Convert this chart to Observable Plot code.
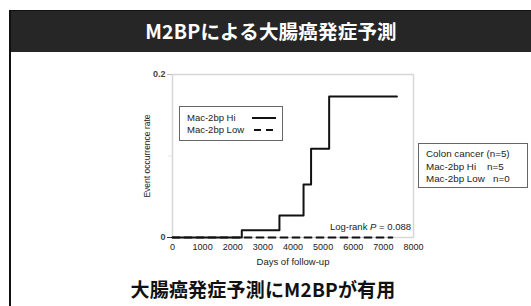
<!DOCTYPE html>
<html><head><meta charset="utf-8">
<script src="https://cdn.jsdelivr.net/npm/d3@7"></script>
<script src="https://cdn.jsdelivr.net/npm/@observablehq/plot@0.6"></script>
<style>
body{margin:0;background:#fff;}
#wrap{position:relative;width:531px;height:306px;overflow:hidden;background:#fff;font-family:"Liberation Sans",Arial,sans-serif;}
.abs{position:absolute;}
#hdr{left:11px;top:11px;width:520px;height:41px;background:#262626;color:#fff;font-family:"Noto Sans CJK JP",sans-serif;font-weight:bold;font-size:19.5px;line-height:40px;text-align:center;letter-spacing:0.2px;}
#foot{left:3px;width:520px;top:277px;text-align:center;font-family:"Noto Sans CJK JP",sans-serif;font-weight:bold;font-size:19px;line-height:24px;color:#111;letter-spacing:0.2px;}
.box{border:1px solid #666;background:#fff;color:#222;}
</style></head>
<body>
<div id="wrap">
  <div id="chart" class="abs" style="left:0;top:0"></div>
  <div class="abs" style="left:9px;top:10px;width:2px;height:296px;background:#111"></div>
  <div class="abs" style="left:9px;top:10px;width:522px;height:1.5px;background:#111"></div>
  <div id="hdr" class="abs"></div>
  <div id="legend" class="abs box" style="left:179px;top:106px;width:102px;height:33px;"></div>
  <div id="info" class="abs box" style="left:418px;top:143px;width:110px;height:45px;font-size:9.8px;line-height:12.5px;padding:0 0 0 7px;box-sizing:border-box;padding-top:4px;white-space:nowrap;"></div>
  <div id="foot" class="abs"></div>
</div>
<script>
const title = "M2BPによる大腸癌発症予測";
const footer = "大腸癌発症予測にM2BPが有用";
const xLabel = "Days of follow-up";
const yLabel = "Event occurrence rate";
const xTicks = [0, 1000, 2000, 3000, 4000, 5000, 6000, 7000, 8000];
const yTicks = [0, 0.2];
const seriesNames = ["Mac-2bp Hi", "Mac-2bp Low"];
const hiDays = [0, 2300, 3550, 4350, 4600, 5200, 7450];
const hiRate = [0, 0.009, 0.027, 0.065, 0.109, 0.173, 0.173];
const lowDays = [0, 7300];
const lowRate = [0, 0];
const infoLines = ["Colon cancer (n=5)", "Mac-2bp Hi\u00a0\u00a0\u00a0 n=5", "Mac-2bp Low\u00a0\u00a0 n=0"];
const pText = "0.088";

document.getElementById("hdr").textContent = title;
document.getElementById("foot").textContent = footer;
document.getElementById("info").innerHTML = infoLines.map(s => `<div>${s}</div>`).join("");

const hi = hiDays.map((d, i) => ({d, r: hiRate[i]}));
const low = lowDays.map((d, i) => ({d, r: lowRate[i]}));

const chart = Plot.plot({
  width: 531, height: 306,
  marginLeft: 172, marginRight: 118, marginTop: 74, marginBottom: 69,
  style: {fontFamily: "Liberation Sans, Arial, sans-serif", fontSize: "9px", color: "#222", background: "transparent"},
  x: {domain: [0, 8000]},
  y: {domain: [0, 0.2]},
  marks: [
    Plot.frame({stroke: "#d8d8d8", strokeWidth: 1.5}),
    Plot.axisX({ticks: xTicks, tickSize: 0, tickPadding: 6, tickFormat: d => String(d), label: null, fontSize: 9, fill: "#222"}),
    Plot.axisY({ticks: [0.1], tickSize: 4, stroke: "#e6e6e6", tickFormat: () => "", label: null}),
    Plot.axisY({ticks: [0.2], tickSize: 5, stroke: "#bbb", tickPadding: 2, fontWeight: "bold", fill: "#444", tickFormat: d => d.toFixed(1), label: null}),
    Plot.axisY({ticks: [0], tickSize: 5, stroke: "#333", tickPadding: 2, fontWeight: "bold", fill: "#444", tickFormat: d => String(d), label: null}),
    Plot.text([xLabel], {frameAnchor: "bottom", dy: 27, text: d => d, fontSize: 9.5, fill: "#222"}),
    Plot.text([yLabel], {frameAnchor: "left", textAnchor: "middle", dx: -25, rotate: -90, text: d => d, fontSize: 8.5, fill: "#222"}),
    Plot.line(low, {x: "d", y: "r", stroke: "#111", strokeWidth: 1.8, strokeDasharray: "7,5"}),
    Plot.line(hi, {x: "d", y: "r", curve: "step-after", stroke: "#111", strokeWidth: 2}),
  ]
});
const svg = d3.select(chart);
const t = svg.append("text")
  .attr("x", 411).attr("y", 230).attr("text-anchor", "end")
  .attr("font-size", 9.5).attr("fill", "#222").attr("font-family", "Liberation Sans, Arial, sans-serif");
t.append("tspan").text("Log-rank ");
t.append("tspan").attr("font-style", "italic").text("P");
t.append("tspan").text(" = " + pText);
document.getElementById("chart").appendChild(chart);

const lg = document.getElementById("legend");
lg.innerHTML = `<svg width="102" height="33" style="display:block;font-family:Liberation Sans, Arial, sans-serif">
<text x="7" y="14" font-size="9.5" fill="#222">${seriesNames[0]}</text>
<text x="7" y="26" font-size="9.5" fill="#222">${seriesNames[1]}</text>
<line x1="72" x2="96" y1="11" y2="11" stroke="#111" stroke-width="2"/>
<line x1="74" x2="96" y1="23" y2="23" stroke="#111" stroke-width="1.8" stroke-dasharray="7,5"/>
</svg>`;
</script>
</body></html>
